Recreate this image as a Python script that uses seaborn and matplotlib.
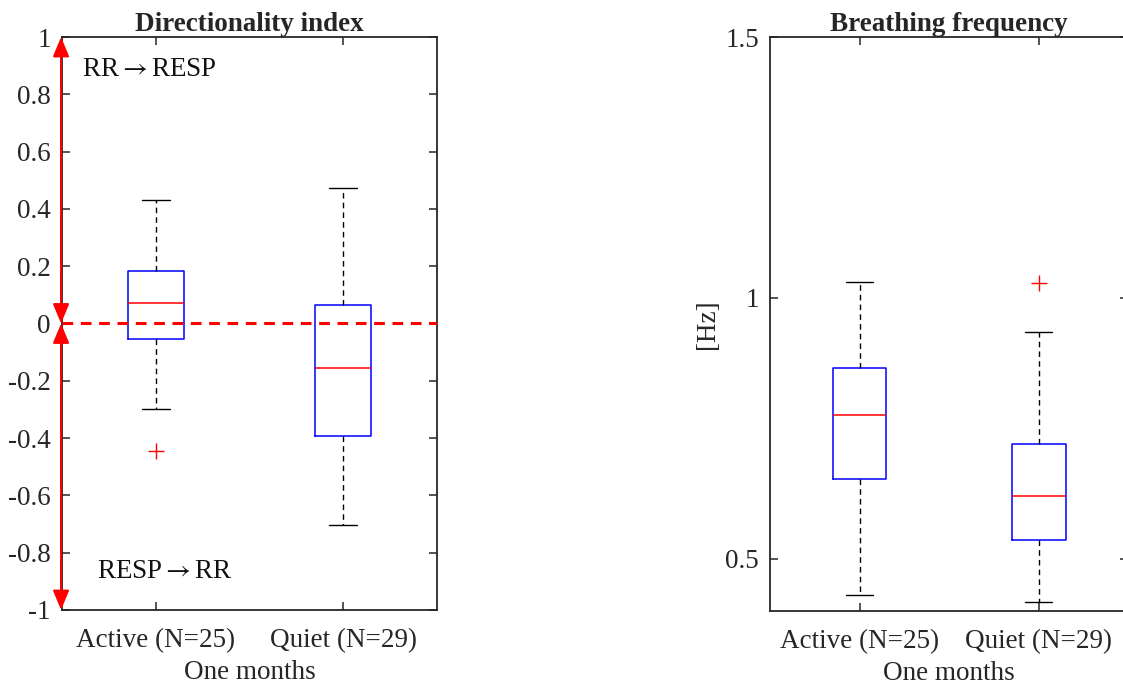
import numpy as np
import pandas as pd
import matplotlib
matplotlib.use("Agg")
import matplotlib.pyplot as plt
import seaborn as sns

# groups (x tick labels)
groups = ["Active (N=25)", "Quiet (N=29)"]

# Directionality index box summaries
di_low = [-0.298, -0.703]
di_q1 = [-0.054, -0.393]
di_med = [0.072, -0.155]
di_q3 = [0.183, 0.065]
di_high = [0.431, 0.473]
di_out = [[-0.445], []]

# Breathing frequency box summaries [Hz]
bf_low = [0.431, 0.418]
bf_q1 = [0.653, 0.536]
bf_med = [0.775, 0.620]
bf_q3 = [0.865, 0.720]
bf_high = [1.031, 0.935]
bf_out = [[], [1.029]]


def summary_to_frame(low, q1, med, q3, high, outliers):
    # 9 points per group so that the 25/50/75 % quantiles land on q1/med/q3
    rows = []
    for i, g in enumerate(groups):
        pts = [low[i], low[i], q1[i], q1[i], med[i], q3[i], q3[i], high[i], high[i]]
        for o in outliers[i]:
            if o < low[i]:
                pts[0] = o
            else:
                pts[-1] = o
        rows += [(g, v) for v in pts]
    return pd.DataFrame(rows, columns=["group", "value"])


sns.set_style("ticks")
plt.rcParams['font.family'] = ['Liberation Serif', 'DejaVu Serif']
plt.rcParams['mathtext.fontset'] = 'stix'

fs = 19.5
dark = '#262626'

fig = plt.figure(figsize=(11.23, 6.84), dpi=100)
ax1 = fig.add_axes([0.0552, 0.1082, 0.3339, 0.8377])
ax2 = fig.add_axes([0.6857, 0.1067, 0.3190, 0.8392])

box_kws = dict(
    width=0.3, whis=1.5, fill=False, color='blue', linewidth=1.1,
    boxprops=dict(color='blue', linewidth=1.1),
    medianprops=dict(color='red', linewidth=1.1),
    whiskerprops=dict(color='black', linestyle=(0, (4, 3)), linewidth=1.0),
    capprops=dict(color='black', linewidth=1.0),
    flierprops=dict(marker='+', markeredgecolor='red', markersize=11,
                    markeredgewidth=1.0),
)

df1 = summary_to_frame(di_low, di_q1, di_med, di_q3, di_high, di_out)
df2 = summary_to_frame(bf_low, bf_q1, bf_med, bf_q3, bf_high, bf_out)

sns.boxplot(data=df1, x="group", y="value", order=groups, ax=ax1, **box_kws)
sns.boxplot(data=df2, x="group", y="value", order=groups, ax=ax2, **box_kws)

for ax in (ax1, ax2):
    ax.set_xlim(-0.5, 1.5)
    for s in ax.spines.values():
        s.set_visible(True)
        s.set_color(dark)
        s.set_linewidth(1.3)
    ax.tick_params(direction='in', length=6, width=1.1, color=dark,
                   labelcolor=dark, labelsize=fs, top=True, right=True,
                   pad=8)
    ax.tick_params(axis='x', pad=13)
    ax.set_xlabel("One months", fontsize=fs, color=dark, labelpad=5)

# left panel
ax1.set_ylim(-1, 1)
ax1.set_yticks(np.arange(-1, 1.01, 0.2))
ax1.set_yticklabels(['-1', '-0.8', '-0.6', '-0.4', '-0.2', '0',
                     '0.2', '0.4', '0.6', '0.8', '1'])
ax1.set_ylabel("")
ax1.set_title("Directionality index", fontsize=fs, fontweight='bold', pad=4)
ax1.axhline(0, color='red', linestyle=(0, (3.5, 2.5)), linewidth=2.2, zorder=5)
arrow = dict(arrowstyle='<|-|>,head_length=0.6,head_width=0.25', color='red',
             lw=1.5, mutation_scale=20, shrinkA=0, shrinkB=0)
ax1.annotate("", xy=(-0.505, 1), xytext=(-0.505, 0), arrowprops=arrow,
             annotation_clip=False, zorder=6)
ax1.annotate("", xy=(-0.505, 0), xytext=(-0.505, -1), arrowprops=arrow,
             annotation_clip=False, zorder=6)
ax1.text(-0.393, 0.885, r"RR${\rightarrow}$RESP", fontsize=fs, va='center',
         ha='left', color='#111111')
ax1.text(-0.313, -0.867, r"RESP${\rightarrow}$RR", fontsize=fs, va='center',
         ha='left', color='#111111')

# right panel
ax2.set_ylim(0.4, 1.5)
ax2.set_yticks([0.5, 1, 1.5])
ax2.set_yticklabels(['0.5', '1', '1.5'])
ax2.set_ylabel("[Hz]", fontsize=fs, color=dark, labelpad=4)
ax2.set_title("Breathing frequency", fontsize=fs, fontweight='bold', pad=4)

fig.savefig("out.png", dpi=100)
